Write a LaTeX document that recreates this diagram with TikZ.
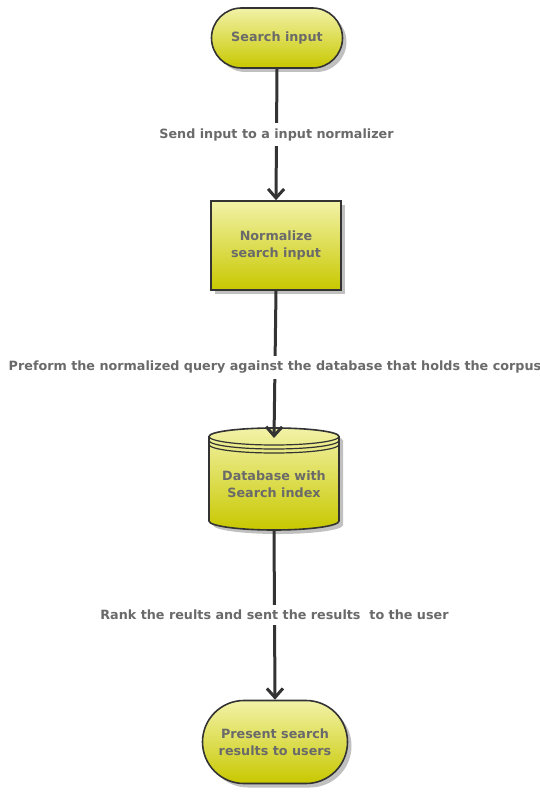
\documentclass[tikz,border=0pt]{standalone}
\usepackage{fontspec}
\setmainfont{DejaVu Sans}
\usetikzlibrary{arrows.meta,shadows,shapes.misc}
\definecolor{ytop}{HTML}{F2F2A8}
\definecolor{ybot}{HTML}{C8C800}
\definecolor{edge}{HTML}{333333}
\definecolor{txt}{HTML}{6A6A6A}
\definecolor{shd}{HTML}{B0B0B0}
\tikzset{
  x=1pt,y=1pt,
  tfont/.style={font=\bfseries\fontsize{12.75}{16.5}\selectfont},
  base/.style={draw=edge, line width=1.6pt, top color=ytop, bottom color=ybot,
    tfont, text=txt, align=center,
    drop shadow={shadow xshift=4pt, shadow yshift=-4pt, fill=shd, opacity=0.8}},
  term/.style={base, rounded rectangle, minimum width=#1, inner sep=0pt},
  proc/.style={base, rectangle, minimum width=130pt, minimum height=89pt},
  conn/.style={draw=edge, line width=3pt, -{Straight Barb[length=9pt,width=16pt,line width=3pt]}},
  lbl/.style={fill=white, text=txt, tfont, inner sep=5pt}
}
\begin{document}
\begin{tikzpicture}
\useasboundingbox (0,0) rectangle (540,-797);
% Search input
\node[term=131pt, minimum height=60pt] (s) at (277,-38) {Search input};
% Normalize
\node[proc] (n) at (276,-245.5) {Normalize\\search input};
% Database cylinder
\fill[shd, opacity=0.8] (213,-440.5) -- (213,-525) arc (180:360:65 and 9) -- (343,-440.5) arc (0:180:65 and 8.5) -- cycle;
\path[top color=ytop, bottom color=ybot, draw=edge, line width=1.6pt]
  (209,-436.5) -- (209,-521) arc (180:360:65 and 9) -- (339,-436.5) arc (0:180:65 and 8.5) -- cycle;
\draw[edge, line width=1.2pt] (209,-436.5) arc (180:360:65 and 8.5);
\draw[edge, line width=1.2pt] (209,-440.5) arc (180:360:65 and 8.5);
\draw[edge, line width=1.2pt] (209,-444.5) arc (180:360:65 and 8.5);
\node[tfont, text=txt, align=center] (d) at (274,-484) {Database with\\Search index};
\coordinate (dtop) at (274,-438);
\coordinate (dbot) at (274,-530);
% Present
\node[term=145pt, minimum height=83pt] (p) at (275,-742) {Present search\\results to users};
% connectors
\draw[conn] (s.south) -- (n.north) node[lbl, pos=0.5] (l1) {Send input to a input normalizer};
\draw[conn] (n.south) -- (dtop) node[lbl, pos=0.52] (l2) {Preform the normalized query against the database that holds the corpus};
\draw[conn] (dbot) -- (p.north) node[lbl, pos=0.5] (l3) {Rank the reults and sent the results\ \ to the user};
\end{tikzpicture}
\end{document}
